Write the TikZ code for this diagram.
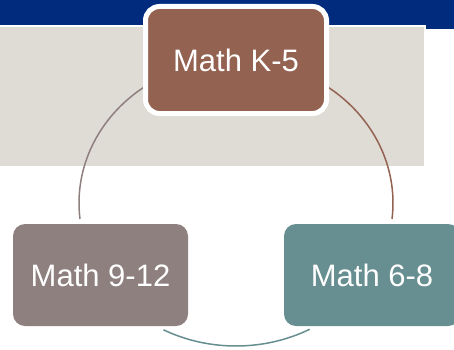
\documentclass[tikz,border=0pt]{standalone}
\usepackage{fontspec}
\setmainfont{Liberation Sans}
\definecolor{bandblue}{HTML}{012C7E}
\definecolor{panelgray}{HTML}{DFDBD5}
\definecolor{kfive}{HTML}{946251}
\definecolor{nine}{HTML}{8E807F}
\definecolor{six}{HTML}{678E90}
\begin{document}
\begin{tikzpicture}[x=1pt,y=1pt,
  box/.style={rounded corners=12pt, minimum width=176pt, minimum height=102pt,
    inner sep=0pt, text=white, font=\fontsize{31}{36}\selectfont},
  arcline/.style={line width=1.5pt}]
\useasboundingbox (0,0) rectangle (454,349);
\clip (0,0) rectangle (454,349);
\fill[white] (0,0) rectangle (454,349);
% top band and panel
\fill[bandblue] (0,324) rectangle (454,349);
\fill[bandblue] (426,320) rectangle (454,324);
\fill[panelgray] (0,183) rectangle (424,322);
% ellipse centre for the cycle
\coordinate (c) at (236,146);
% connectors
\draw[arcline, nine] ([shift={(125.8:157pt and 143pt)}]c) arc[start angle=125.8, end angle=186.4, x radius=157pt, y radius=143pt];
\draw[arcline, kfive] ([shift={(54.2:157pt and 143pt)}]c) arc[start angle=54.2, end angle=-6.4, x radius=157pt, y radius=143pt];
\draw[arcline, six] ([shift={(-62:157pt and 143pt)}]c) arc[start angle=-62, end angle=-117.5, x radius=157pt, y radius=143pt];
% nodes
\node[box, fill=kfive, draw=white, line width=5pt, rounded corners=14pt,
  minimum width=181pt, minimum height=107pt] (k5) at (236,289) {Math K-5};
\node[box, fill=nine, minimum width=175pt] (n912) at (100.5,74) {Math 9-12};
\node[box, fill=six] (s68) at (372,74) {Math 6-8};
\end{tikzpicture}
\end{document}
